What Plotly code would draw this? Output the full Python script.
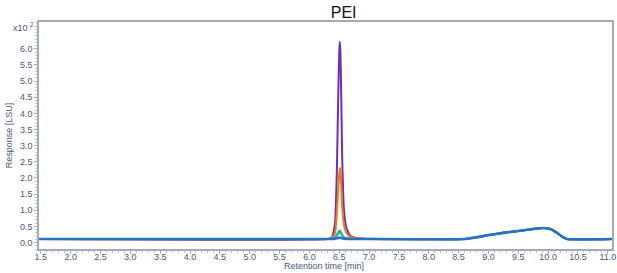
import plotly.graph_objects as go

# Retention time points (min)
peak_x = [1.47, 6.30, 6.38, 6.43, 6.46, 6.48, 6.50, 6.51, 6.52, 6.535, 6.55, 6.58, 6.62, 6.68, 6.78, 6.95,
          8.6, 8.8, 9.0, 9.25, 9.5, 9.75, 9.92, 10.02, 10.12, 10.22, 10.32, 11.07]

# Hump values shared (x10^2 LSU)
hump = [0.11, 0.16, 0.23, 0.3, 0.36, 0.42, 0.45, 0.43, 0.34, 0.2, 0.11, 0.11]

purple_y = [0.11, 0.11, 0.16, 0.6, 2.2, 4.2, 5.9, 6.22, 5.9, 4.4, 2.6, 1.0, 0.45, 0.22, 0.14, 0.12] + hump
orange_y = [0.11, 0.11, 0.13, 0.3, 0.9, 1.6, 2.15, 2.31, 2.2, 1.7, 1.1, 0.55, 0.3, 0.18, 0.13, 0.11] + hump
green_y = [0.11, 0.11, 0.12, 0.15, 0.2, 0.26, 0.3, 0.31, 0.3, 0.27, 0.22, 0.16, 0.13, 0.12, 0.11, 0.11] + hump
cyan_y = [0.11, 0.11, 0.12, 0.16, 0.24, 0.32, 0.36, 0.37, 0.35, 0.3, 0.23, 0.16, 0.13, 0.12, 0.11, 0.11] + hump
blue_y = [0.11, 0.11, 0.11, 0.12, 0.13, 0.14, 0.15, 0.15, 0.15, 0.14, 0.13, 0.12, 0.115, 0.11, 0.11, 0.11] + hump

series = [
    ("purple", purple_y, "#7030b0", 2),
    ("orange", orange_y, "#f07a10", 2),
    ("green", green_y, "#58b848", 2),
    ("cyan", cyan_y, "#20b0c8", 2),
    ("blue", blue_y, "#2a72c0", 2.6),
]

x_ticks = [1.5 + 0.5 * i for i in range(20)]
y_ticks = [0.5 * i for i in range(13)]

fig = go.Figure()
for name, ys, color, w in series:
    fig.add_trace(go.Scatter(x=peak_x, y=ys, mode="lines", name=name,
                             line=dict(color=color, width=w, shape="spline", smoothing=0.4),
                             hoverinfo="skip"))

FONT = "Liberation Sans, Arial, sans-serif"
tickfont = dict(family=FONT, size=9, color="#4a5878")
axis_line = "#a4a9bc"

fig.update_layout(
    width=617, height=273,
    margin=dict(l=39, r=5, t=22, b=24),
    paper_bgcolor="white", plot_bgcolor="white",
    showlegend=False,
    title=dict(text="PEI", x=0.557, xanchor="center", y=0.955, yanchor="middle",
               font=dict(family=FONT, size=16, color="#111111")),
    xaxis=dict(range=[1.47, 11.07], tickvals=x_ticks, ticktext=[f"{v:.1f}" for v in x_ticks],
               automargin=False, ticklabelstandoff=-5,
               showgrid=False, zeroline=False, showline=True, linecolor=axis_line, linewidth=1.5,
               mirror=True, ticks="outside", ticklen=3, tickcolor=axis_line, tickfont=tickfont,
               minor=dict(dtick=0.1, ticks="outside", ticklen=2, tickcolor="#c0c4d0")),
    yaxis=dict(range=[-0.2, 6.83], tickvals=y_ticks, ticktext=[f"{v:.1f}" for v in y_ticks],
               automargin=False,
               showgrid=False, zeroline=False, showline=True, linecolor=axis_line, linewidth=1.5,
               mirror=True, ticks="outside", ticklen=3, tickcolor=axis_line, tickfont=tickfont,
               minor=dict(dtick=0.1, ticks="outside", ticklen=2, tickcolor="#c0c4d0"),
               title=dict(text="Response [LSU]", standoff=6,
                          font=dict(family=FONT, size=9, color="#4a5878"))),
)

fig.add_annotation(text="Retention time [min]", xref="paper", yref="paper", x=0.497, y=0,
                   yshift=-10, xanchor="center", yanchor="top", showarrow=False,
                   font=dict(family=FONT, size=9, color="#4a5878"))

fig.add_annotation(text="x10 <sup>2</sup>", xref="paper", yref="paper", x=-0.006, y=0.98,
                   xanchor="right", yanchor="middle", showarrow=False,
                   font=dict(family=FONT, size=9, color="#4a5878"))

fig.write_html("out.html")
